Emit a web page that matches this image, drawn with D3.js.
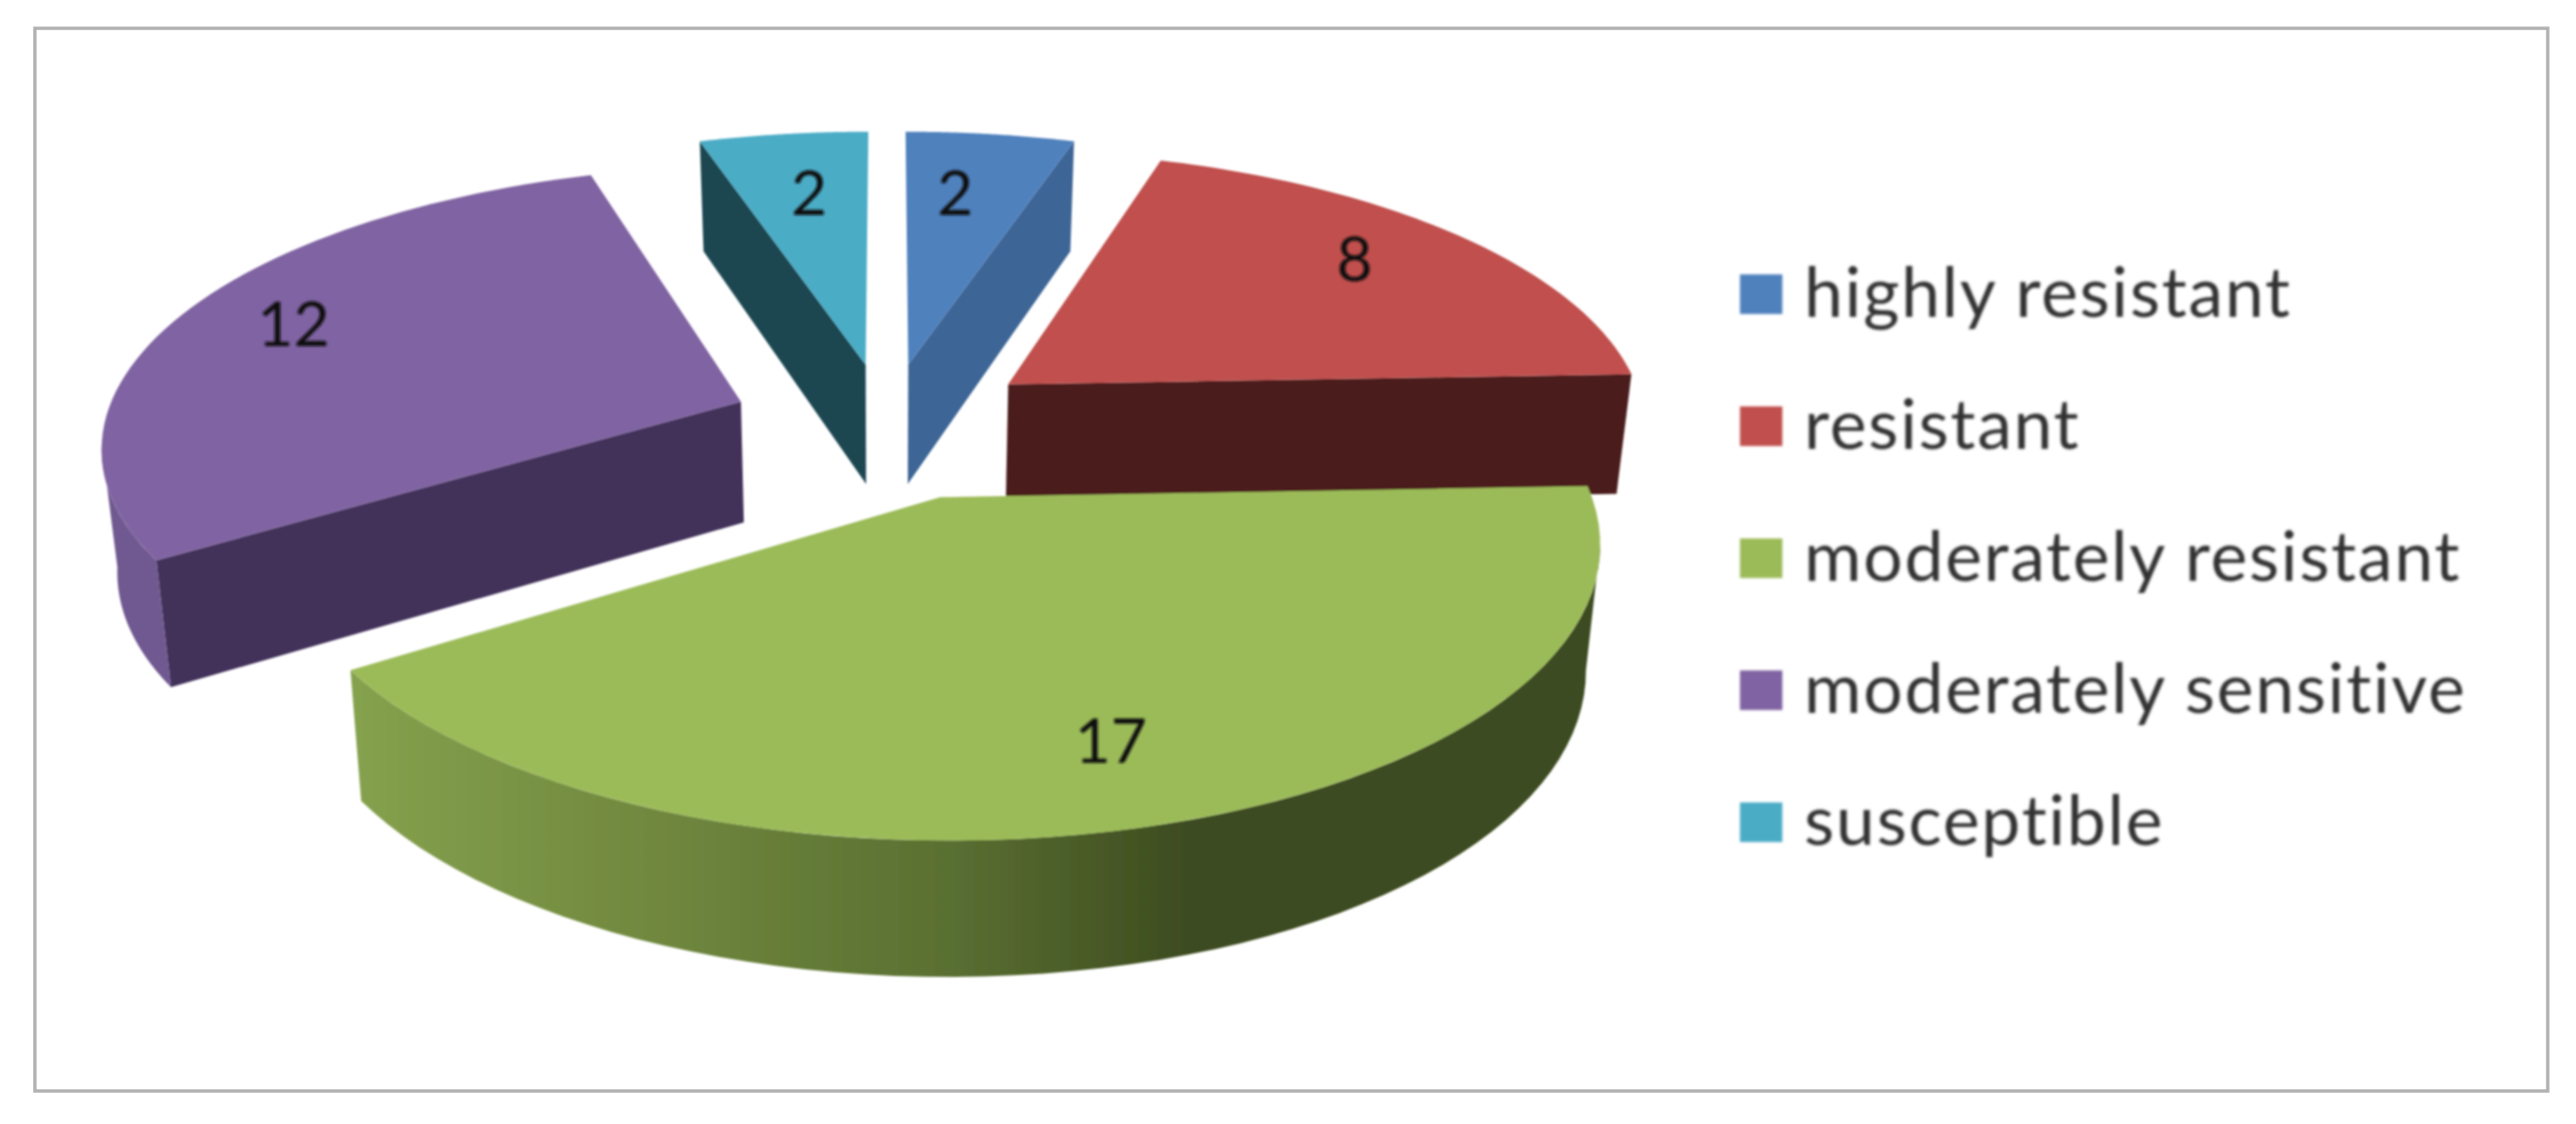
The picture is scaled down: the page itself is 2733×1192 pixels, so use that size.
<!DOCTYPE html>
<html>
<head>
<meta charset="utf-8">
<script src="https://d3js.org/d3.v7.min.js"></script>
<style>
  body { margin: 0; background: #fff; }
  text { font-family: Lato, "Open Sans", sans-serif; }
</style>
</head>
<body>
<div id="chart"></div>
<script>
// Chart data
const categories = ["highly resistant", "resistant", "moderately resistant", "moderately sensitive", "susceptible"];
const counts = [2, 8, 17, 12, 2];

// Colours for each slice
const topColors = ["#4f81bd", "#c0504d", "#9bbb59", "#8064a2", "#4bacc6"];
const sideColors = ["#3d6595", "#4c1f1e", "#3e4c20", "#42325a", "#1d4751"];
const rimColors = ["#3d6595", "#4c1f1e", "url(#greenRim)", "#6f5890", "#1d4751"];

const width = 2733;
const height = 1192;

// fake 3D settings, tuned by eye against the picture
const center = {x: 941, y: 450};
const explode = [0.22, 0.238, 0.26, 0.24, 0.22];
const sliceRadius = [1, 0.98, 0.96, 0.974, 1];
const perspective = 0.147;
const depth = 129;
const depthPerspective = 0.09;
const bottomShrink = 0.98;

const svg = d3.select("#chart")
  .append("svg")
  .attr("width", width)
  .attr("height", height)
  .style("display", "block");

// Green rim fades from light to dark, left to right
const defs = svg.append("defs");
const grad = defs.append("linearGradient")
  .attr("id", "greenRim")
  .attr("gradientUnits", "userSpaceOnUse")
  .attr("x1", 368).attr("x2", 1260).attr("y1", 0).attr("y2", 0);
[[0, "#85a24e"], [0.32, "#738b40"], [0.71, "#5a7032"], [1, "#3e4c20"]].forEach(s => {
  grad.append("stop").attr("offset", s[0]).attr("stop-color", s[1]);
});
defs.append("filter").attr("id", "soft")
  .append("feGaussianBlur").attr("stdDeviation", 1.1);
defs.append("filter").attr("id", "softText")
  .append("feGaussianBlur").attr("stdDeviation", 1.5);

// Frame
svg.append("rect")
  .attr("x", 37).attr("y", 30)
  .attr("width", 2666).attr("height", 1127)
  .attr("fill", "#fff")
  .attr("stroke", "#b2b2b2")
  .attr("stroke-width", 3.5);

const xScale = d3.scaleLinear().domain([-1, 1]).range([center.x - 694, center.x + 694]);
const yScale = d3.scaleLinear().domain([-1, 1]).range([center.y + 300.5, center.y - 300.5]);

// disc coordinates (X right, Y away from viewer) to screen
function project(X, Y, bottom) {
  const w = 1 + perspective * Y;
  let sx = xScale(X / w);
  let sy = yScale(Y / w);
  if (bottom) {
    sx = center.x + (sx - center.x) * bottomShrink;
    sy = sy + depth / (1 + depthPerspective * Y);
  }
  return [sx, sy];
}

const pie = d3.pie().sort(null).value(d => d);
const line = d3.line();

const slices = pie(counts).map((d, i) => {
  const mid = (d.startAngle + d.endAngle) / 2;
  const ax = explode[i] * Math.sin(mid);
  const ay = explode[i] * Math.cos(mid);
  return {i, value: d.value, start: d.startAngle, end: d.endAngle, mid, ax, ay};
});

// point on the rim (or apex when r = 0) of a slice
const pt = (s, a, r, bottom) => {
  const rr = r * sliceRadius[s.i];
  return project(s.ax + rr * Math.sin(a), s.ay + rr * Math.cos(a), bottom);
};
const arcAngles = (a0, a1) => d3.range(0, 61).map(j => a0 + (a1 - a0) * j / 60);
const deg = d3.scaleLinear().domain([0, 360]).range([0, 2 * Math.PI]);

// Back slices first so the front ones cover them
const order = slices.slice().sort((a, b) => b.ay - a.ay);

const pieGroup = svg.append("g").attr("filter", "url(#soft)");

order.forEach(s => {
  const g = pieGroup.append("g").attr("class", "slice");

  // end wall shows when it faces the viewer
  if (Math.sin(s.end) > 0.01) {
    g.append("path")
      .attr("d", line([pt(s, 0, 0), pt(s, s.end, 1), pt(s, s.end, 1, true), pt(s, 0, 0, true)]) + "Z")
      .attr("fill", sideColors[s.i]);
  }
  // start wall
  if (Math.sin(s.start) < -0.01) {
    g.append("path")
      .attr("d", line([pt(s, 0, 0), pt(s, s.start, 1), pt(s, s.start, 1, true), pt(s, 0, 0, true)]) + "Z")
      .attr("fill", sideColors[s.i]);
  }

  // rim, cut where the perspective outline turns away from us
  const a0 = Math.max(s.start, deg(99));
  const a1 = Math.min(s.end, deg(261));
  if (a1 > a0) {
    const angles = arcAngles(a0, a1);
    const rimPts = angles.map(a => pt(s, a, 1)).concat(angles.slice().reverse().map(a => pt(s, a, 1, true)));
    g.append("path")
      .attr("d", line(rimPts) + "Z")
      .attr("fill", rimColors[s.i]);
  }

  // top face
  const topPts = [pt(s, 0, 0)].concat(arcAngles(s.start, s.end).map(a => pt(s, a, 1)));
  g.append("path")
    .attr("d", line(topPts) + "Z")
    .attr("fill", topColors[s.i]);
});

// Value labels
const labelRadius = [0.78, 0.75, 0.8, 0.8, 0.78];
const labelNudge = [[-20, 12], [2, -14], [-14, -11], [4, -10], [10, 12]];

svg.append("g").selectAll("text")
  .data(slices)
  .enter()
  .append("text")
  .attr("x", s => pt(s, s.mid, labelRadius[s.i])[0] + labelNudge[s.i][0])
  .attr("y", s => pt(s, s.mid, labelRadius[s.i])[1] + labelNudge[s.i][1])
  .attr("text-anchor", "middle")
  .attr("dominant-baseline", "central")
  .attr("font-size", 66)
  .attr("fill", "#111")
  .attr("filter", "url(#softText)")
  .text(s => s.value);

// Legend
const legendY = d3.scalePoint().domain(categories).range([312, 872]);

const legend = svg.append("g").attr("filter", "url(#softText)");

legend.selectAll("rect")
  .data(categories)
  .enter()
  .append("rect")
  .attr("x", 1846)
  .attr("y", d => legendY(d) - 21)
  .attr("width", 45)
  .attr("height", 42)
  .attr("fill", (d, i) => topColors[i]);

legend.selectAll("text")
  .data(categories)
  .enter()
  .append("text")
  .attr("x", 1914)
  .attr("y", d => legendY(d) + 24)
  .attr("font-size", 74)
  .attr("letter-spacing", 1.8)
  .attr("fill", "#333")
  .text(d => d);
</script>
</body>
</html>
